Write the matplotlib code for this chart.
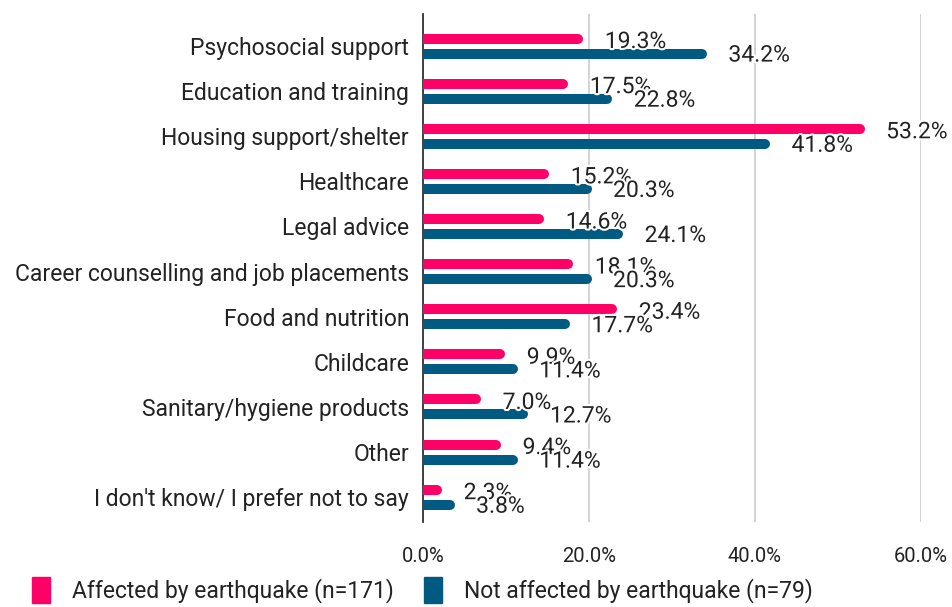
import matplotlib.pyplot as plt
import matplotlib.patheffects as pe
from matplotlib.patches import Patch

categories = ["Psychosocial support", "Education and training", "Housing support/shelter",
              "Healthcare", "Legal advice", "Career counselling and job placements",
              "Food and nutrition", "Childcare", "Sanitary/hygiene products", "Other",
              "I don't know/ I prefer not to say"]
affected = [19.3, 17.5, 53.2, 15.2, 14.6, 18.1, 23.4, 9.9, 7.0, 9.4, 2.3]
not_affected = [34.2, 22.8, 41.8, 20.3, 24.1, 20.3, 17.7, 11.4, 12.7, 11.4, 3.8]
series_names = ["Affected by earthquake (n=171)", "Not affected by earthquake (n=79)"]
xticks = [0, 20, 40, 60]

pink = "#FF0066"
blue = "#005A82"

plt.rcParams['font.family'] = ['Roboto', 'DejaVu Sans']

fig = plt.figure(figsize=(9.52, 6.07), dpi=100)
ax = fig.add_axes([423 / 952, 1 - 522 / 607, (921 - 423) / 952, (522 - 14) / 607])

ax.set_xlim(0, 60)
ax.set_ylim(10.55, -0.71)

lw = 7.2          # bar thickness in points (about 10 px)
cap = 0.6         # half thickness in data units, so round caps end at the value
off = 0.166
halo = [pe.withStroke(linewidth=3, foreground="white")]

for i, (a, b) in enumerate(zip(affected, not_affected)):
    ax.hlines(i - off, 0, a - cap, color=pink, lw=lw, capstyle="round", zorder=3)
    ax.hlines(i + off, 0, b - cap, color=blue, lw=lw, capstyle="round", zorder=3)
    ax.text(a + 2.6, i - 0.1, f"{a:.1f}%", fontsize=16.5, va="center", ha="left",
            color="#222222", path_effects=halo, zorder=4, clip_on=False)
    ax.text(b + 2.6, i + 0.2, f"{b:.1f}%", fontsize=16.5, va="center", ha="left",
            color="#222222", path_effects=halo, zorder=4, clip_on=False)

ax.set_yticks(range(len(categories)))
ax.set_yticklabels(categories, fontsize=16.5, color="#222222")
ax.set_xticks(xticks)
ax.set_xticklabels([f"{t:.1f}%" for t in xticks], fontsize=14.5, color="#222222")
ax.tick_params(axis="y", length=0, pad=10)
ax.tick_params(axis="x", length=0, pad=18)

ax.grid(axis="x", color="#cccccc", lw=1.2, zorder=0)
for s in ["top", "right", "bottom"]:
    ax.spines[s].set_visible(False)
ax.spines["left"].set_color("#333333")
ax.spines["left"].set_linewidth(1.3)

handles = [Patch(color=pink), Patch(color=blue)]
fig.legend(handles, series_names, loc="lower left", bbox_to_anchor=(0.012, -0.028),
           ncol=2, frameon=False, fontsize=16.5, handlelength=0.8, handleheight=1.4,
           columnspacing=1.3, handletextpad=0.95, labelcolor="#222222")

fig.savefig("out.png", dpi=100)
